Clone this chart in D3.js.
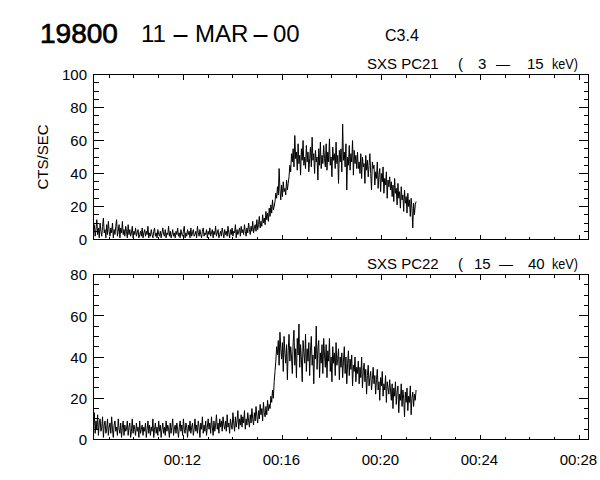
<!DOCTYPE html>
<html>
<head>
<meta charset="utf-8">
<script src="https://cdn.jsdelivr.net/npm/d3@7"></script>
<style>
  html, body { margin: 0; padding: 0; background: #fff; }
  svg { display: block; }
  text { font-family: "Liberation Sans", Arial, sans-serif; fill: #000; }
</style>
</head>
<body>
<svg id="chart" width="600" height="480"></svg>
<script>
// ---- data ----
const titleId = "19800";
const titleDateParts = ["11", "-", "MAR", "-", "00"];
const titleClass = "C3.4";
const yLabel = "CTS/SEC";
const panelTitleParts = [
  ["SXS PC21", "(", "3", "\u2013", "15", "keV)"],
  ["SXS PC22", "(", "15", "\u2013", "40", "keV)"]
];

// time axis: seconds after 00:00 UT
const timeStartSec = 502;      // first sample, 00:08:22
const sampleStepSec = 2;       // sample spacing
const xDomainSec = [502, 1702];
const xMajorTicks = [720, 960, 1200, 1440, 1680];
const xTickLabels = ["00:12", "00:16", "00:20", "00:24", "00:28"];

const pc21 = [
  4,9,2,6,12,3,7,1,10,5,2,8,13,4,6,1,9,3,11,5,
  2,7,4,10,1,6,3,8,12,2,5,9,1,7,4,11,3,6,2,8,
  5,1,9,3,6,2,4,8,1,5,3,7,2,4,6,1,3,5,2,7,
  1,4,6,2,5,3,8,1,4,2,6,3,1,5,7,2,4,1,6,3,
  2,5,1,4,7,3,2,6,1,4,3,8,2,5,1,3,6,2,4,1,
  5,3,7,2,4,1,6,3,2,5,8,1,4,2,6,3,5,1,7,2,
  4,6,2,3,5,1,8,4,2,6,3,1,5,7,2,4,3,6,1,5,
  3,7,2,4,6,1,5,3,8,2,4,6,1,3,5,2,7,4,1,6,
  3,5,2,8,4,1,6,3,7,2,5,4,9,1,6,3,5,7,2,8,
  4,6,3,9,5,2,7,4,10,6,3,8,5,11,4,7,9,5,12,6,
  9,14,7,11,8,15,10,13,9,17,12,16,11,19,14,21,16,24,18,20,
  23,28,25,32,27,43,30,24,33,26,35,29,31,27,36,30,34,38,45,41,
  52,47,55,44,63,49,53,42,58,46,51,39,55,48,60,45,50,43,57,47,
  53,41,49,56,44,62,48,52,40,54,47,50,36,55,45,59,43,51,46,57,
  49,44,58,42,53,47,61,45,50,38,56,48,52,43,59,46,51,34,54,47,
  55,41,70,48,53,44,58,30,50,45,57,42,52,47,60,39,54,46,51,43,
  53,43,47,40,52,37,50,44,46,34,51,42,48,38,45,52,40,30,47,43,
  45,33,41,37,47,31,39,43,29,40,35,44,28,37,33,41,25,36,32,38,
  30,35,26,33,23,37,28,31,21,34,25,29,19,32,24,27,17,30,22,26,
  16,28,20,24,14,25,19,7,22,15,21,23
];
const pc22 = [
  7,13,3,9,5,12,2,8,10,4,6,11,1,7,9,3,5,10,2,6,
  8,3,11,5,1,7,9,4,6,2,10,5,3,8,1,6,9,2,7,4,
  5,9,2,6,8,1,4,10,3,7,5,2,8,4,6,1,9,3,5,7,
  2,6,4,8,1,5,9,3,7,2,6,4,10,1,5,8,3,6,2,9,
  4,7,1,5,8,3,6,2,9,4,7,5,1,8,3,6,10,2,5,7,
  3,8,5,1,6,9,4,7,2,10,5,3,8,6,1,7,4,9,3,6,
  8,2,5,10,4,7,3,9,6,1,8,5,11,3,7,4,9,2,6,10,
  5,8,3,11,6,2,9,4,7,12,5,8,3,10,6,9,4,11,7,5,
  9,4,12,6,8,3,10,7,5,13,8,4,11,6,9,14,5,10,7,12,
  6,11,8,14,5,10,7,13,9,6,12,8,15,10,7,13,9,16,11,8,
  14,10,17,12,15,9,18,13,11,16,12,19,14,17,15,21,18,24,20,28,
  33,38,45,41,48,36,52,44,39,47,33,50,42,37,46,29,43,51,38,45,
  40,32,47,53,36,44,30,49,41,56,35,46,39,28,48,42,37,51,33,44,
  38,47,31,43,50,36,41,27,45,39,55,34,44,48,30,42,37,46,32,49,
  41,35,46,30,43,38,49,33,40,28,45,37,42,31,47,36,39,44,29,40,
  35,42,30,38,45,32,40,27,37,43,31,39,34,41,26,36,33,40,28,35,
  32,38,27,35,30,40,25,33,37,28,34,22,31,36,26,30,33,24,29,35,
  27,31,22,29,34,24,28,19,30,26,33,21,27,24,31,18,28,25,22,29,
  24,19,27,15,25,21,28,17,23,26,13,22,19,27,16,24,20,11,23,18,
  25,14,21,18,26,12,20,23,16,22,19,24
];
const yDomains = [[0, 100], [0, 80]];
const yMajorStep = 20;
const yMinorStep = 5;

// ---- layout ----
const svg = d3.select("#chart");
const left = 93.5, right = 588.5;
const panels = [
  { top: 74.5, bottom: 239.5, data: pc21, dom: yDomains[0], title: panelTitleParts[0],
    titleX: [367, 458, 478, 496, 527, 552], xlabels: false },
  { top: 274.5, bottom: 439.5, data: pc22, dom: yDomains[1], title: panelTitleParts[1],
    titleX: [367, 458, 474, 499, 528, 552], xlabels: true }
];

const x = d3.scaleLinear().domain(xDomainSec).range([left, right]);
const xMinorTicks = d3.range(540, 1702, 60);

// header
svg.append("text").attr("x", 40).attr("y", 43).attr("font-size", 28)
   .attr("stroke", "#000").attr("stroke-width", 0.7).text(titleId);
const dateText = svg.append("text").attr("y", 42).attr("font-size", 24);
const dateX = [141, 171, 195, 251, 273];
titleDateParts.forEach((s, i) => {
  const ts = dateText.append("tspan").attr("x", dateX[i]).text(s);
  if (s === "-") ts.attr("textLength", 19).attr("lengthAdjust", "spacingAndGlyphs");
});
svg.append("text").attr("x", 385).attr("y", 41).attr("font-size", 16).text(titleClass);

// y-axis label
svg.append("text")
   .attr("transform", "translate(48,157) rotate(-90)")
   .attr("text-anchor", "middle").attr("font-size", 15).text(yLabel);

panels.forEach(p => {
  const y = d3.scaleLinear().domain(p.dom).range([p.bottom, p.top]);
  const g = svg.append("g");
  const yMajor = d3.range(p.dom[0], p.dom[1] + 0.1, yMajorStep);
  const yMinor = d3.range(p.dom[0], p.dom[1] + 0.1, yMinorStep).filter(v => v % yMajorStep !== 0);

  // data line
  const line = d3.line()
    .x((d, i) => x(timeStartSec + i * sampleStepSec))
    .y(d => y(d));
  g.append("path").datum(p.data).attr("d", line)
    .attr("fill", "none").attr("stroke", "#000").attr("stroke-width", 1);

  // frame
  g.append("rect").attr("x", left).attr("y", p.top)
    .attr("width", right - left).attr("height", p.bottom - p.top)
    .attr("fill", "none").attr("stroke", "#000").attr("stroke-width", 1)
    .attr("shape-rendering", "crispEdges");

  const tickG = g.append("g").attr("stroke", "#000").attr("stroke-width", 1)
    .attr("shape-rendering", "crispEdges");

  const yy = v => Math.round(y(v) - 0.5) + 0.5;
  yMajor.forEach(v => {
    tickG.append("line").attr("x1", left).attr("x2", left + 10).attr("y1", yy(v)).attr("y2", yy(v));
    tickG.append("line").attr("x1", right).attr("x2", right - 10).attr("y1", yy(v)).attr("y2", yy(v));
  });
  yMinor.forEach(v => {
    tickG.append("line").attr("x1", left).attr("x2", left + 5).attr("y1", yy(v)).attr("y2", yy(v));
    tickG.append("line").attr("x1", right).attr("x2", right - 5).attr("y1", yy(v)).attr("y2", yy(v));
  });
  xMinorTicks.forEach(t => {
    const isMajor = xMajorTicks.includes(t);
    const len = isMajor ? 5 : 3;
    const xx = Math.round(x(t) - 0.5) + 0.5;
    tickG.append("line").attr("x1", xx).attr("x2", xx).attr("y1", p.bottom).attr("y2", p.bottom - len);
    tickG.append("line").attr("x1", xx).attr("x2", xx).attr("y1", p.top).attr("y2", p.top + len);
  });

  // y labels
  g.selectAll("text.ylab").data(yMajor).enter().append("text")
    .attr("class", "ylab").attr("x", 87).attr("y", v => y(v) + 2)
    .attr("text-anchor", "end").attr("dominant-baseline", "middle")
    .attr("font-size", 15).text(v => v);

  // panel title
  const tt = g.append("text").attr("y", p.top - 6).attr("font-size", 15);
  p.title.forEach((s, i) => {
    const ts = tt.append("tspan").attr("x", p.titleX[i]).text(s);
    if (s === "\u2013") ts.attr("textLength", 14).attr("lengthAdjust", "spacingAndGlyphs");
    if (s === "keV)") ts.attr("textLength", 26).attr("lengthAdjust", "spacingAndGlyphs");
  });

  // x labels
  if (p.xlabels) {
    g.selectAll("text.xlab").data(xMajorTicks).enter().append("text")
      .attr("class", "xlab").attr("x", t => x(t) - 1).attr("y", p.bottom + 25)
      .attr("text-anchor", "middle").attr("font-size", 15)
      .text((t, i) => xTickLabels[i]);
  }
});
</script>
</body>
</html>
